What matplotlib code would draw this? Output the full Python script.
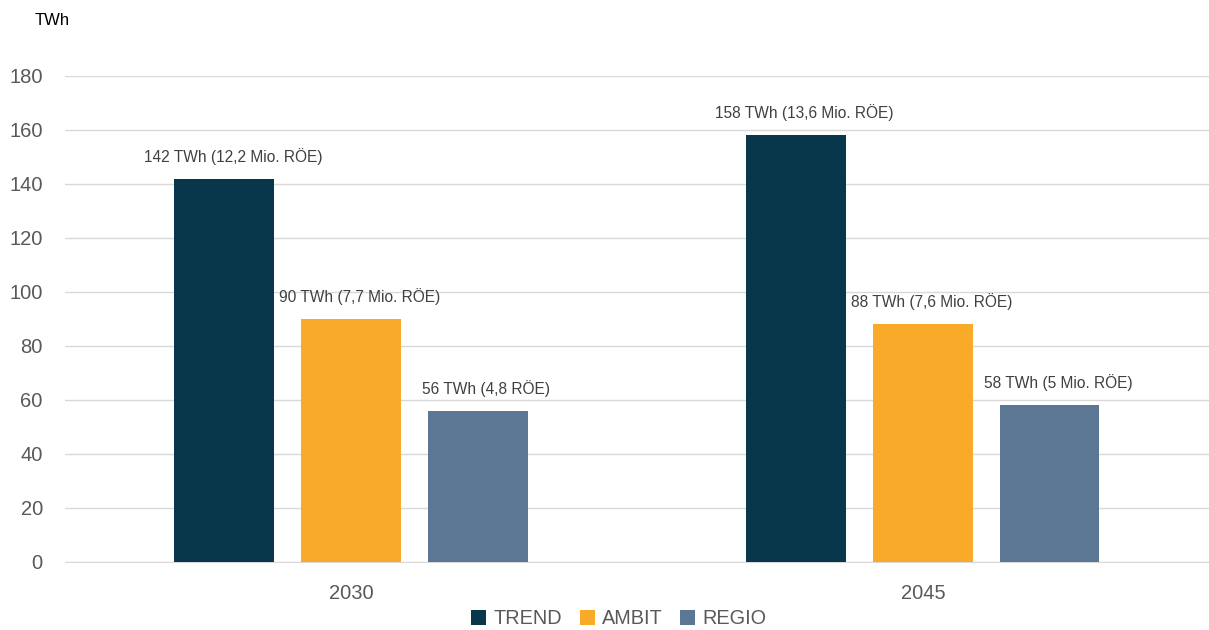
import matplotlib
matplotlib.use("Agg")
import matplotlib.pyplot as plt
import numpy as np

plt.rcParams['font.family'] = ['Liberation Sans', 'DejaVu Sans']

years = ["2030", "2045"]
series = ["TREND", "AMBIT", "REGIO"]
values = {
    "TREND": [142, 158],
    "AMBIT": [90, 88],
    "REGIO": [56, 58],
}
labels = {
    "TREND": ["142 TWh (12,2 Mio. RÖE)", "158 TWh (13,6 Mio. RÖE)"],
    "AMBIT": ["90 TWh (7,7 Mio. RÖE)", "88 TWh (7,6 Mio. RÖE)"],
    "REGIO": ["56 TWh (4,8 RÖE)", "58 TWh (5 Mio. RÖE)"],
}
colors = {"TREND": "#08364a", "AMBIT": "#f9aa28", "REGIO": "#5b7793"}
yticks = [0, 20, 40, 60, 80, 100, 120, 140, 160, 180]

fig = plt.figure(figsize=(12.09, 6.3), dpi=100)
ax = fig.add_axes([0.0538, 0.108, 0.946, 0.7714])

x = np.arange(len(years))
width = 0.1745
step = 0.2216
text_color = "#595959"
for i, s in enumerate(series):
    pos = x + (i - 1) * step
    bars = ax.bar(pos, values[s], width=width, color=colors[s], label=s, zorder=3)
    for b, lab in zip(bars, labels[s]):
        ax.annotate(lab, (b.get_x() + b.get_width() / 2 + 0.015, b.get_height()),
                    xytext=(0, 14), textcoords="offset pixels",
                    ha="center", va="bottom", fontsize=11.2, color="#404040")

ax.set_xlim(-0.5, 1.5)
ax.set_ylim(0, 180)
ax.set_yticks(yticks)
ax.set_xticks(x)
ax.set_xticklabels(years)
ax.grid(axis="y", color="#d9d9d9", linewidth=1, zorder=0)
for sp in ["top", "right", "left"]:
    ax.spines[sp].set_visible(False)
ax.spines["bottom"].set_color("#d9d9d9")
ax.tick_params(axis="both", length=0, labelsize=14.5, colors=text_color)
ax.tick_params(axis="y", pad=16)
ax.tick_params(axis="x", pad=16)

fig.text(0.029, 0.968, "TWh", fontsize=12, color="#000000", ha="left", va="center")

ax.legend(loc="center", bbox_to_anchor=(0.484, -0.117), ncol=3, frameon=False,
          fontsize=14.3, labelcolor=text_color, handlelength=0.75, handleheight=0.75,
          handletextpad=0.35, columnspacing=0.9, borderpad=0.1)

fig.savefig("out.png", dpi=100)
